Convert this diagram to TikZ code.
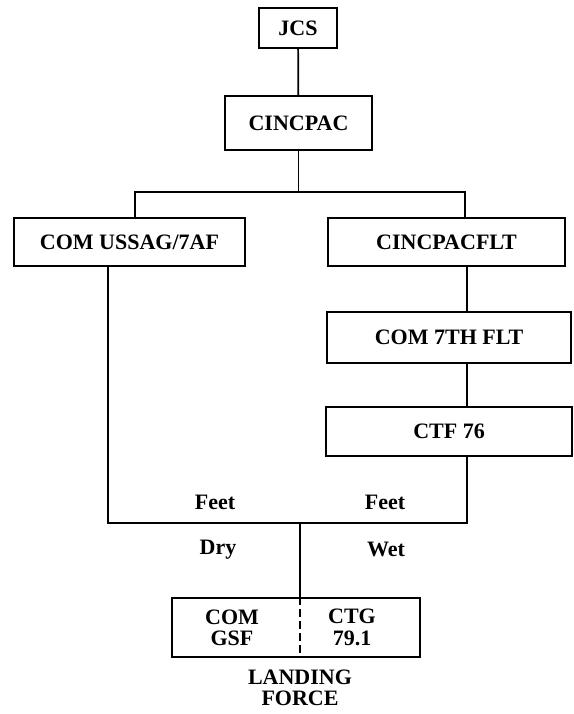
\documentclass[tikz,border=0pt]{standalone}
\usepackage{fontspec}
\setmainfont{Liberation Serif}

\tikzset{every picture/.style={line width=1.3pt}}
\tikzset{unit/.style={draw, line width=1.3pt, inner sep=0pt, font=\fontsize{16.5}{16}\selectfont\bfseries, align=center}}
\tikzset{lbl/.style={inner sep=0.75pt, font=\fontsize{16.5}{16}\selectfont\bfseries, align=center}}

\begin{document}
\begin{tikzpicture}[x=0.75pt,y=0.75pt,yscale=-1,xscale=1]
\useasboundingbox (0,0) rectangle (574,714);

%Shape: Rectangle [id:jcs]
\node [unit, minimum width=58.5pt, minimum height=30pt] (jcs) at (298,28) {JCS};
%Shape: Rectangle [id:cincpac]
\node [unit, minimum width=110.25pt, minimum height=40.5pt] (cincpac) at (298.5,123) {CINCPAC};
%Shape: Rectangle [id:ussag]
\node [unit, minimum width=173.25pt, minimum height=36pt] (ussag) at (129.5,242) {COM USSAG/7AF};
%Shape: Rectangle [id:pacflt]
\node [unit, minimum width=177.75pt, minimum height=36pt] (pacflt) at (446.5,242) {CINCPACFLT};
%Shape: Rectangle [id:seventh]
\node [unit, minimum width=183pt, minimum height=38.25pt] (seventh) at (449,337.5) {COM 7TH FLT};
%Shape: Rectangle [id:ctf]
\node [unit, minimum width=184.5pt, minimum height=36.75pt] (ctf) at (449,431.5) {CTF 76};
%Shape: Rectangle [id:landing]
\node [draw, line width=1.3pt, minimum width=186pt, minimum height=44.25pt] (lf) at (296,627.5) {};

% Corners of the connectors
\coordinate (barL) at (135,192);
\coordinate (barR) at (465,192);
\coordinate (dryL) at (108,523);
\coordinate (wetR) at (467,523);
\coordinate (mid) at (300,523);

%Straight Lines
\draw (jcs) -- (cincpac);
\draw (cincpac.south) -- (cincpac.south |- barL);
\draw (ussag.north -| barL) -- (barL) -- (barR) -- (barR |- pacflt.north);
%Straight Lines
\draw (pacflt.south -| wetR) -- (seventh.north -| wetR);
\draw (seventh.south -| wetR) -- (ctf.north -| wetR);
%Straight Lines
\draw (ussag.south -| dryL) -- (dryL) -- (wetR) -- (ctf.south -| wetR);
\draw (mid) -- (mid |- lf.north);
\draw [dashed, dash pattern=on 6pt off 3pt, line width=1.1pt] (mid |- lf.north) -- (mid |- lf.south);

% Text Node
\node [lbl] (feetL) at (215,502) {Feet};
% Text Node
\node [lbl] (feetR) at (385,502) {Feet};
% Text Node
\node [lbl] (dry) at (218,550) {Dry};
% Text Node
\node [lbl] (wet) at (386,549) {Wet};
% Text Node
\node [lbl] (gsf) at (232,627.5) {COM\\GSF};
% Text Node
\node [lbl] (ctg) at (352,627.5) {CTG\\79.1};
% Text Node
\node [lbl] (force) at (300,688) {LANDING\\FORCE};

\end{tikzpicture}
\end{document}
